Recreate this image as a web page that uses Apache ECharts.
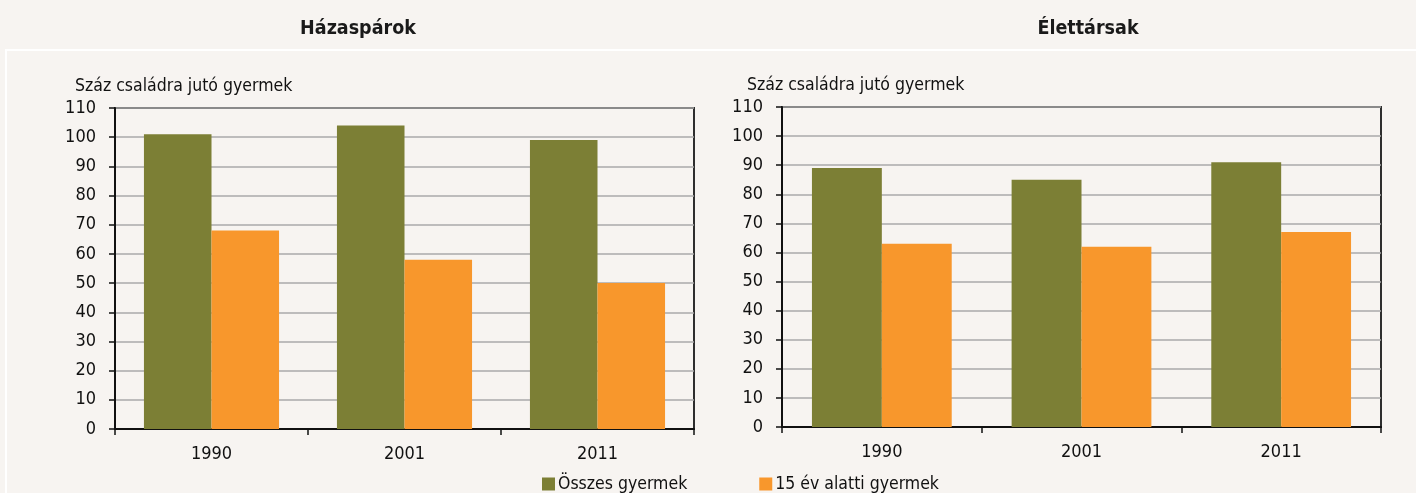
<!DOCTYPE html>
<html>
<head>
<meta charset="utf-8">
<script src="https://cdn.jsdelivr.net/npm/echarts@6/dist/echarts.min.js"></script>
<style>
html,body{margin:0;padding:0;background:#f7f4f1;}
#c{width:1416px;height:493px;}
</style>
</head>
<body>
<div id="c"></div>
<script>
const categories = ['1990', '2001', '2011'];
const seriesNames = ['Összes gyermek', '15 év alatti gyermek'];
const panelTitles = ['Házaspárok', 'Élettársak'];
const axisTitle = 'Száz családra jutó gyermek';
// Házaspárok
const marriedTotal = [101, 104, 99];
const marriedUnder15 = [68, 58, 50];
// Élettársak
const cohabTotal = [89, 85, 91];
const cohabUnder15 = [63, 62, 67];

const FONT = "'Liberation Sans Narrow', 'DejaVu Sans Condensed', 'Arial Narrow', sans-serif";
const GREEN = '#7c7f35';
const ORANGE = '#f8972c';

function xAxis(gridIndex) {
  return {
    type: 'category', gridIndex, data: categories,
    axisLine: { lineStyle: { color: '#111', width: 2 } },
    axisTick: { show: true, length: 6, lineStyle: { color: '#111', width: 1.5 } },
    axisLabel: { color: '#111', fontFamily: FONT, fontSize: 18, margin: 16 }
  };
}
function yAxis(gridIndex) {
  return {
    type: 'value', gridIndex, min: 0, max: 110, interval: 10,
    axisLine: { show: true, lineStyle: { color: '#111', width: 2 } },
    axisTick: { show: true, length: 6, lineStyle: { color: '#111', width: 1.5 } },
    axisLabel: { color: '#111', fontFamily: FONT, fontSize: 18, margin: 19 },
    splitLine: { lineStyle: { color: '#aaaaaa', width: 1.5 } }
  };
}
function bar(name, data, idx, color) {
  return {
    name, type: 'bar', data, xAxisIndex: idx, yAxisIndex: idx,
    barWidth: '35%', barGap: '0%',
    itemStyle: { color },
    emphasis: { disabled: true }
  };
}

const chart = echarts.init(document.getElementById('c'), null, { renderer: 'canvas' });
chart.setOption({
  backgroundColor: '#f7f4f1',
  animation: false,
  title: [
    { text: panelTitles[0], left: 353, top: 14, textAlign: 'center',
      textStyle: { fontFamily: FONT, fontWeight: 'bold', fontSize: 19.5, color: '#1a1a1a' } },
    { text: panelTitles[1], left: 1083, top: 14, textAlign: 'center',
      textStyle: { fontFamily: FONT, fontWeight: 'bold', fontSize: 19.5, color: '#1a1a1a' } },
    { text: axisTitle, left: 70, top: 72,
      textStyle: { fontFamily: FONT, fontWeight: 'normal', fontSize: 17.5, color: '#111' } },
    { text: axisTitle, left: 742, top: 71,
      textStyle: { fontFamily: FONT, fontWeight: 'normal', fontSize: 17.5, color: '#111' } }
  ],
  graphic: [
    { type: 'line', shape: { x1: 5, y1: 50, x2: 1416, y2: 50 }, style: { stroke: '#ffffff', lineWidth: 2 }, silent: true },
    { type: 'line', shape: { x1: 6, y1: 50, x2: 6, y2: 493 }, style: { stroke: '#ffffff', lineWidth: 2 }, silent: true }
  ],
  legend: {
    left: 537, top: 470, itemWidth: 13, itemHeight: 13, itemGap: 72,
    icon: 'rect',
    textStyle: { fontFamily: FONT, fontSize: 17.5, color: '#111', padding: [0, 0, 0, -2] },
    data: seriesNames
  },
  grid: [
    { left: 115, right: 722, top: 108, bottom: 64, show: true, borderColor: '#2e2e2e', borderWidth: 2, backgroundColor: 'transparent' },
    { left: 782, right: 35, top: 107, bottom: 66, show: true, borderColor: '#2e2e2e', borderWidth: 2, backgroundColor: 'transparent' }
  ],
  xAxis: [xAxis(0), xAxis(1)],
  yAxis: [yAxis(0), yAxis(1)],
  series: [
    bar(seriesNames[0], marriedTotal, 0, GREEN),
    bar(seriesNames[1], marriedUnder15, 0, ORANGE),
    bar(seriesNames[0], cohabTotal, 1, GREEN),
    bar(seriesNames[1], cohabUnder15, 1, ORANGE)
  ]
});
</script>
</body>
</html>
